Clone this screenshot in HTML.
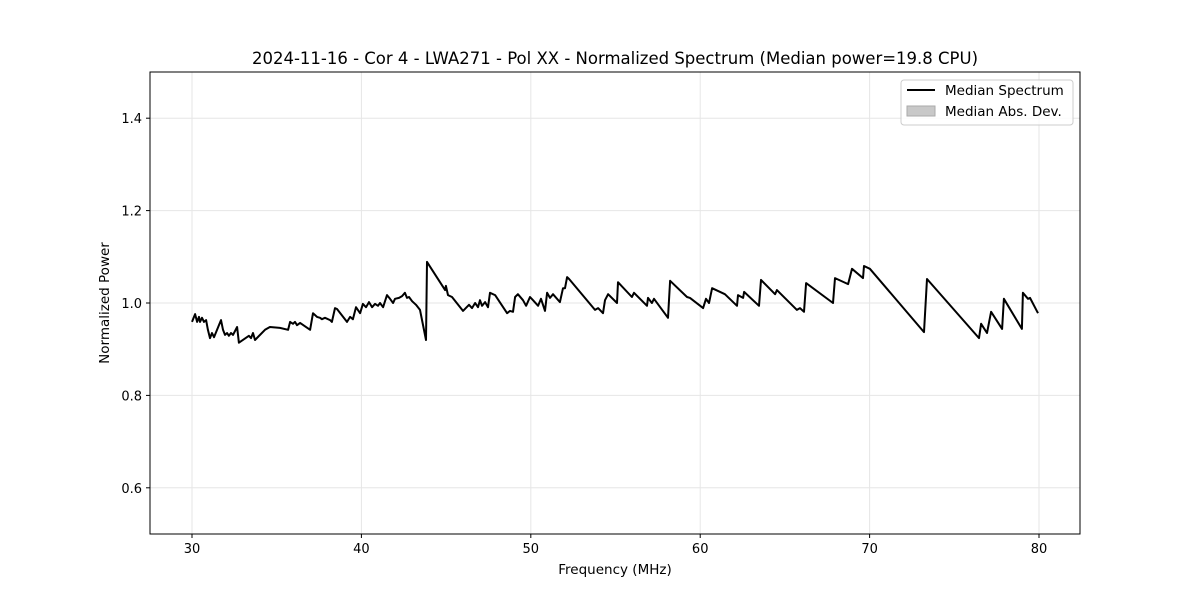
<!DOCTYPE html>
<html><head><meta charset="utf-8"><style>
body{margin:0;background:#fff;}
svg{display:block;font-family:"DejaVu Sans","Liberation Sans",sans-serif;}
</style></head><body>
<svg id="chart" width="1200" height="600">
<rect width="1200" height="600" fill="#fff"/>
<text x="615" y="64" font-size="16.5" text-anchor="middle">2024-11-16 - Cor 4 - LWA271 - Pol XX - Normalized Spectrum (Median power=19.8 CPU)</text>
<g id="grid"></g>
<g id="xticks"></g>
<g id="yticks"></g>
<path id="line" fill="none" stroke="#000" stroke-width="2" stroke-linejoin="round"/>
<rect x="150" y="72" width="930" height="462" fill="none" stroke="#000" stroke-width="1"/>
<text x="615" y="574" font-size="13.5" text-anchor="middle">Frequency (MHz)</text>
<text x="0" y="0" font-size="13.5" text-anchor="middle" transform="translate(109,303) rotate(-90)">Normalized Power</text>
<g>
<rect x="901" y="80" width="172" height="45" rx="3" fill="#fff" fill-opacity="0.8" stroke="#ccc"/>
<line x1="907" y1="90" x2="935" y2="90" stroke="#000" stroke-width="2"/>
<text x="945" y="95" font-size="13.5">Median Spectrum</text>
<rect x="907" y="106" width="28" height="10" fill="#c8c8c8" stroke="#aaa"/>
<text x="945" y="116" font-size="13.5">Median Abs. Dev.</text>
</g>
</svg>
<script>
const freqs=[30.00,30.18,30.30,30.41,30.47,30.59,30.71,30.83,30.94,31.06,31.18,31.30,31.71,31.83,31.95,32.07,32.18,32.30,32.42,32.66,32.77,33.36,33.48,33.60,33.72,34.31,34.60,35.19,35.67,35.79,35.96,36.08,36.20,36.38,36.97,37.14,37.38,37.56,37.67,37.85,38.15,38.26,38.44,38.56,39.15,39.33,39.50,39.68,39.92,40.09,40.27,40.45,40.63,40.80,40.98,41.10,41.28,41.51,41.69,41.87,41.98,42.22,42.40,42.57,42.69,42.81,42.99,43.22,43.46,43.81,43.87,44.94,44.99,45.11,45.35,46.00,46.35,46.53,46.71,46.88,47.00,47.12,47.30,47.47,47.59,47.89,48.60,48.77,48.95,49.07,49.24,49.54,49.72,49.95,50.13,50.43,50.60,50.84,50.96,51.13,51.31,51.72,51.90,52.02,52.14,52.26,53.79,53.97,54.26,54.38,54.56,55.09,55.15,55.97,56.09,56.86,56.92,57.15,57.27,58.10,58.22,59.22,59.40,60.17,60.34,60.52,60.70,61.46,62.17,62.23,62.53,62.59,63.47,63.59,64.42,64.53,65.71,65.89,66.13,66.25,67.84,67.96,68.73,68.96,69.61,69.67,70.02,73.21,73.39,76.46,76.58,76.93,77.17,77.82,77.93,78.99,79.05,79.35,79.47,79.94];
const power=[0.959,0.976,0.959,0.970,0.959,0.968,0.959,0.963,0.942,0.924,0.935,0.926,0.963,0.942,0.931,0.935,0.929,0.935,0.931,0.948,0.914,0.929,0.924,0.935,0.920,0.942,0.948,0.946,0.942,0.959,0.955,0.959,0.952,0.957,0.942,0.978,0.970,0.968,0.965,0.968,0.963,0.959,0.989,0.987,0.959,0.970,0.965,0.991,0.978,0.998,0.991,1.002,0.991,0.998,0.994,1.000,0.991,1.017,1.009,1.000,1.009,1.011,1.015,1.022,1.011,1.013,1.004,0.996,0.985,0.920,1.089,1.028,1.037,1.017,1.013,0.983,0.996,0.989,1.000,0.991,1.006,0.994,1.002,0.991,1.022,1.017,0.978,0.983,0.981,1.013,1.019,1.006,0.994,1.013,1.006,0.994,1.009,0.983,1.022,1.011,1.019,1.002,1.032,1.032,1.056,1.052,0.985,0.989,0.978,1.006,1.019,1.000,1.045,1.013,1.022,0.994,1.011,1.000,1.009,0.968,1.048,1.013,1.011,0.989,1.009,1.000,1.032,1.019,0.994,1.017,1.011,1.024,0.994,1.050,1.019,1.028,0.985,0.989,0.981,1.043,1.000,1.054,1.041,1.074,1.054,1.080,1.074,0.937,1.052,0.924,0.955,0.935,0.981,0.944,1.009,0.944,1.022,1.009,1.011,0.978];
const xTicks=[30,40,50,60,70,80];
const yTicks=[0.6,0.8,1.0,1.2,1.4];
const yTickLabels=["0.6","0.8","1.0","1.2","1.4"];
const X0=150,X1=1080,Y0=534,Y1=72,XMIN=27.52,XMAX=82.42,YMIN=0.5,YMAX=1.5;
function sx(f){return X0+(f-XMIN)/(XMAX-XMIN)*(X1-X0);}
function sy(v){return Y0-(v-YMIN)/(YMAX-YMIN)*(Y0-Y1);}
const NS="http://www.w3.org/2000/svg";
function mk(tag,attrs,parent){const e=document.createElementNS(NS,tag);for(const k in attrs)e.setAttribute(k,attrs[k]);parent.appendChild(e);return e;}
const grid=document.getElementById('grid'),xt=document.getElementById('xticks'),yt=document.getElementById('yticks');
xTicks.forEach(t=>{const x=sx(t);
const g=mk('line',{x1:x,x2:x,y1:Y1,y2:Y0,stroke:'#e6e6e6','stroke-width':1},grid);


const tk=mk('line',{x1:x,x2:x,y1:Y0,y2:Y0+4,stroke:'#000'},xt);


const lb=mk('text',{x:x,y:Y0+19,'font-size':13,'text-anchor':'middle'},xt);lb.textContent=t;


});
yTicks.forEach((t,i)=>{const y=sy(t);
const g=mk('line',{x1:X0,x2:X1,y1:y,y2:y,stroke:'#e6e6e6','stroke-width':1},grid);


const tk=mk('line',{x1:X0-4,x2:X0,y1:y,y2:y,stroke:'#000'},yt);


const lb=mk('text',{x:X0-8,y:y+5,'font-size':13,'text-anchor':'end'},yt);lb.textContent=yTickLabels[i];


});
document.getElementById('line').setAttribute('d',freqs.map((f,i)=>(i?'L':'M')+sx(f).toFixed(1)+','+sy(power[i]).toFixed(1)).join(' '));
</script>
</body></html>
